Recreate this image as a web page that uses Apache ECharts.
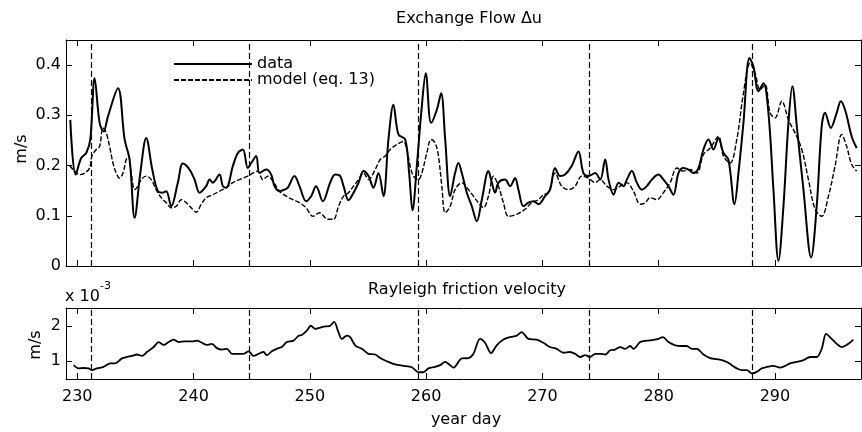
<!DOCTYPE html>
<html><head><meta charset="utf-8">
<script src="https://cdn.jsdelivr.net/npm/echarts@6/dist/echarts.min.js"></script>
<style>html,body{margin:0;padding:0;background:#fff}#c{width:862px;height:432px}</style>
</head><body><div id="c"></div>
<script>
const dataDays=[229.40,229.86,230.34,230.77,231.12,231.49,231.92,232.26,232.64,233.50,
234.07,234.50,234.93,235.42,235.93,236.45,236.93,237.36,237.65,238.08,
238.65,239.08,239.66,240.09,240.52,241.09,241.38,241.66,242.23,242.52,
242.81,243.38,243.81,244.24,244.67,244.96,245.39,245.67,246.25,246.68,
246.96,247.39,247.82,248.11,248.68,249.11,249.68,250.11,250.54,251.12,
251.75,252.18,252.61,252.90,253.33,253.76,254.19,254.62,255.05,255.47,
255.90,256.33,256.76,257.19,257.62,258.20,258.54,258.83,259.20,259.63,
259.97,260.43,260.92,261.29,261.64,262.07,262.49,262.78,263.07,263.50,
263.93,264.36,264.79,265.36,265.65,265.93,266.22,266.79,267.22,267.65,
267.94,268.37,268.80,269.23,269.66,270.23,270.66,271.09,271.52,271.95,
272.52,273.10,273.53,273.96,274.54,274.97,275.40,275.69,276.12,276.55,
276.98,277.26,277.69,278.12,278.55,278.98,279.41,279.98,280.41,280.84,
281.27,281.70,282.13,282.56,282.99,283.42,283.85,284.28,284.71,285.14,
285.57,286.00,286.52,286.86,287.29,287.81,288.15,288.58,289.01,289.44,
289.87,290.30,290.73,291.16,291.50,291.88,292.45,293.11,293.59,294.02,
294.31,294.80,295.31,295.66,296.03,296.60,297.03];
const dataVals=[0.291,0.182,0.215,0.225,0.252,0.374,0.285,0.268,0.298,0.354,
0.252,0.212,0.096,0.185,0.255,0.192,0.149,0.146,0.149,0.119,
0.166,0.204,0.192,0.172,0.146,0.159,0.172,0.166,0.182,0.159,
0.156,0.199,0.225,0.232,0.195,0.205,0.219,0.185,0.192,0.182,
0.159,0.149,0.152,0.156,0.179,0.159,0.129,0.139,0.159,0.129,
0.166,0.182,0.179,0.159,0.131,0.146,0.166,0.189,0.179,0.156,
0.185,0.139,0.252,0.321,0.262,0.252,0.185,0.111,0.199,0.318,
0.384,0.285,0.311,0.344,0.252,0.139,0.185,0.205,0.185,0.146,
0.119,0.089,0.132,0.189,0.166,0.146,0.166,0.172,0.159,0.175,
0.152,0.119,0.126,0.129,0.123,0.139,0.152,0.195,0.179,0.182,
0.199,0.228,0.185,0.179,0.185,0.172,0.212,0.172,0.142,0.166,
0.159,0.172,0.189,0.166,0.152,0.159,0.172,0.182,0.172,0.159,
0.142,0.185,0.195,0.192,0.185,0.195,0.232,0.252,0.232,0.255,
0.225,0.212,0.123,0.185,0.285,0.414,0.397,0.348,0.364,0.305,
0.152,0.010,0.119,0.285,0.358,0.278,0.152,0.017,0.119,0.278,
0.305,0.275,0.305,0.328,0.311,0.258,0.235];
const modelDays=[229.34,229.77,230.20,230.63,231.06,231.26,231.63,231.92,232.21,232.49,
232.78,233.07,233.35,233.64,233.93,234.21,234.41,234.64,234.93,235.21,
235.50,235.93,236.36,236.79,237.22,237.65,238.08,238.51,238.94,239.37,
239.80,240.23,240.66,241.09,241.66,242.23,242.81,243.38,243.95,244.67,
245.10,245.53,245.96,246.39,246.82,247.39,247.97,248.54,249.11,249.68,
250.26,250.83,251.55,252.04,252.47,252.90,253.33,253.76,254.19,254.62,
255.05,255.62,256.05,256.48,256.91,257.48,258.05,258.34,258.63,258.91,
259.34,259.63,260.06,260.43,260.78,261.06,261.35,261.64,262.07,262.49,
263.07,263.64,264.07,264.50,264.93,265.36,265.79,266.22,266.65,267.08,
267.80,268.51,269.08,269.66,270.09,270.52,271.09,271.66,272.24,272.81,
273.38,273.96,274.54,274.97,275.54,276.12,276.69,277.26,277.83,278.41,
278.84,279.27,279.84,280.41,280.99,281.56,282.13,282.71,283.28,283.85,
284.43,285.14,285.57,286.14,286.72,287.29,287.86,288.29,288.72,289.15,
289.58,290.01,290.59,291.16,291.73,292.31,292.88,293.45,294.02,294.60,
295.17,295.74,296.17,296.60,297.03];
const modelVals=[0.200,0.189,0.182,0.185,0.195,0.219,0.232,0.238,0.275,0.265,
0.238,0.205,0.185,0.175,0.185,0.212,0.219,0.185,0.152,0.159,
0.172,0.179,0.172,0.152,0.136,0.126,0.116,0.119,0.132,0.126,
0.116,0.107,0.123,0.136,0.142,0.149,0.156,0.166,0.172,0.179,
0.185,0.189,0.172,0.179,0.169,0.149,0.139,0.132,0.126,0.116,
0.099,0.106,0.093,0.093,0.119,0.139,0.146,0.159,0.172,0.185,
0.172,0.192,0.212,0.219,0.232,0.242,0.248,0.232,0.199,0.179,
0.172,0.185,0.225,0.252,0.245,0.219,0.159,0.106,0.119,0.152,
0.166,0.152,0.139,0.126,0.116,0.139,0.179,0.159,0.126,0.099,
0.103,0.113,0.126,0.132,0.142,0.146,0.185,0.159,0.152,0.159,
0.179,0.175,0.166,0.172,0.159,0.152,0.159,0.166,0.149,0.123,
0.126,0.136,0.132,0.146,0.166,0.195,0.189,0.192,0.185,0.222,
0.235,0.258,0.219,0.205,0.252,0.344,0.404,0.384,0.351,0.361,
0.305,0.295,0.328,0.291,0.265,0.232,0.172,0.113,0.099,0.139,
0.199,0.262,0.238,0.202,0.189];
const friDays=[229.69,230.11,230.54,230.97,231.26,231.69,232.26,232.84,233.27,233.84,
234.27,234.70,235.13,235.56,235.99,236.57,237.00,237.43,237.85,238.28,
238.71,239.28,239.86,240.29,240.72,241.15,241.58,242.01,242.44,242.87,
243.30,243.87,244.30,244.73,245.16,245.59,246.02,246.30,246.73,247.16,
247.59,248.02,248.60,249.03,249.31,249.74,250.09,250.46,250.89,251.32,
251.75,252.09,252.46,252.75,253.18,253.47,253.90,254.47,255.04,255.62,
256.05,256.62,257.34,258.05,258.77,259.34,259.77,260.20,260.77,261.20,
261.63,262.06,262.35,263.07,263.64,264.07,264.64,265.07,265.59,266.07,
266.65,267.22,267.79,268.22,268.80,269.51,270.09,270.66,271.23,271.81,
272.38,272.81,273.25,273.68,274.11,274.54,274.97,275.40,275.83,276.26,
276.69,277.12,277.55,277.83,278.41,278.98,279.55,279.98,280.36,280.84,
281.42,281.99,282.42,282.85,283.28,283.85,284.42,285.00,285.43,285.86,
286.29,286.72,287.15,287.58,288.01,288.44,288.86,289.29,289.87,290.44,
290.87,291.30,291.87,292.45,293.02,293.59,294.02,294.40,294.88,295.31,
295.74,296.31,296.74];
const friVals=[0.89,0.80,0.81,0.80,0.75,0.80,0.84,0.94,0.94,1.08,
1.12,1.15,1.19,1.15,1.26,1.40,1.54,1.46,1.54,1.61,
1.54,1.56,1.56,1.58,1.52,1.46,1.49,1.37,1.33,1.35,
1.21,1.21,1.21,1.28,1.15,1.21,1.26,1.17,1.28,1.35,
1.40,1.54,1.58,1.72,1.74,1.86,2.00,1.91,1.95,1.98,
2.00,2.11,1.82,1.63,1.72,1.68,1.45,1.35,1.21,1.19,
1.09,1.00,0.91,0.87,0.83,0.69,0.69,0.80,0.84,0.89,
0.98,0.89,0.82,1.08,1.09,1.21,1.63,1.52,1.23,1.45,
1.61,1.68,1.72,1.82,1.63,1.61,1.52,1.40,1.35,1.24,
1.26,1.21,1.12,1.17,1.12,1.21,1.21,1.19,1.31,1.33,
1.40,1.35,1.43,1.35,1.54,1.58,1.60,1.63,1.68,1.54,
1.45,1.43,1.43,1.35,1.35,1.19,1.09,1.06,1.03,0.98,
0.89,0.80,0.75,0.75,0.66,0.70,0.80,0.84,0.87,0.82,
0.87,0.94,0.98,1.03,1.12,1.12,1.35,1.77,1.63,1.49,
1.40,1.49,1.61];
const eventDays=[231.2,244.75,259.35,274.0,288.05];
const xTicks=[230,240,250,260,270,280,290];
const yTicksTop=[0,0.1,0.2,0.3,0.4];
const yTicksBot=[1,2];
const seriesNames=['data','model (eq. 13)'];

const FONT='DejaVu Sans';
const zip=(a,b)=>a.map((d,i)=>[d,b[i]]);
const axisLine={show:true,onZero:false,lineStyle:{color:'#000',width:1}};
function xAx(g,pos,showLabel){
  return {type:'value',gridIndex:g,position:pos,min:229.03,max:297.4,
    axisLine,splitLine:{show:false},
    axisTick:{show:true,inside:true,length:6,customValues:xTicks,lineStyle:{color:'#000'}},
    axisLabel:{show:showLabel,customValues:xTicks,color:'#000',fontFamily:FONT,fontSize:16,margin:10}};
}
function yAx(g,pos,showLabel,mn,mx,ticks){
  return {type:'value',gridIndex:g,position:pos,min:mn,max:mx,
    axisLine,splitLine:{show:false},
    axisTick:{show:true,inside:true,length:6,customValues:ticks,lineStyle:{color:'#000'}},
    axisLabel:{show:showLabel,customValues:ticks,color:'#000',fontFamily:FONT,fontSize:16,margin:5}};
}
const vlines=()=>({silent:true,symbol:['none','none'],animation:false,
  label:{show:false},lineStyle:{type:[6,3],color:'#000',width:1.2},
  data:eventDays.map(d=>({xAxis:d}))});

const chart=echarts.init(document.getElementById('c'),null,{renderer:'canvas'});
chart.setOption({
  animation:false,
  backgroundColor:'#fff',
  grid:[{left:66,right:1,top:40,height:226},{left:66,right:1,top:308,height:71}],
  xAxis:[xAx(0,'bottom',false),xAx(0,'top',false),xAx(1,'bottom',true),xAx(1,'top',false)],
  yAxis:[yAx(0,'left',true,0,0.45,yTicksTop),yAx(0,'right',false,0,0.45,yTicksTop),
         yAx(1,'left',true,0.5,2.5,yTicksBot),yAx(1,'right',false,0.5,2.5,yTicksBot)],
  legend:{data:seriesNames,orient:'vertical',left:173,top:56,padding:0,itemGap:0,
    itemWidth:78,itemHeight:15,
    itemStyle:{color:'transparent',borderColor:'transparent',borderWidth:0,opacity:0},
    textStyle:{fontFamily:FONT,fontSize:16,color:'#000',lineHeight:15}},
  graphic:[
    {type:'text',x:469,y:19,style:{text:'Exchange Flow Δu',font:'16px "DejaVu Sans"',fill:'#000',textAlign:'center',textVerticalAlign:'middle'}},
    {type:'text',x:467,y:290,style:{text:'Rayleigh friction velocity',font:'16px "DejaVu Sans"',fill:'#000',textAlign:'center',textVerticalAlign:'middle'}},
    {type:'text',x:466,y:420,style:{text:'year day',font:'16px "DejaVu Sans"',fill:'#000',textAlign:'center',textVerticalAlign:'middle'}},
    {type:'text',x:22,y:149,rotation:Math.PI/2,style:{text:'m/s',font:'16px "DejaVu Sans"',fill:'#000',textAlign:'center',textVerticalAlign:'middle'}},
    {type:'text',x:36,y:345,rotation:Math.PI/2,style:{text:'m/s',font:'16px "DejaVu Sans"',fill:'#000',textAlign:'center',textVerticalAlign:'middle'}},
    {type:'text',x:65,y:297,style:{text:'x 10',font:'16px "DejaVu Sans"',fill:'#000',textAlign:'left',textVerticalAlign:'middle'}},
    {type:'text',x:100,y:286,style:{text:'-3',font:'11px "DejaVu Sans"',fill:'#000',textAlign:'left',textVerticalAlign:'middle'}}
  ],
  series:[
    {type:'line',name:seriesNames[0],xAxisIndex:0,yAxisIndex:0,data:zip(dataDays,dataVals),
     symbol:'none',showSymbol:false,smooth:0.35,
     lineStyle:{color:'#000',width:2},itemStyle:{color:'#000'},markLine:vlines()},
    {type:'line',name:seriesNames[1],xAxisIndex:0,yAxisIndex:0,data:zip(modelDays,modelVals),
     symbol:'none',showSymbol:false,smooth:0.35,
     lineStyle:{color:'#000',width:1.4,type:[5,2]},itemStyle:{color:'#000'}},
    {type:'line',name:'friction',xAxisIndex:2,yAxisIndex:2,data:zip(friDays,friVals),
     symbol:'none',showSymbol:false,smooth:0.3,
     lineStyle:{color:'#000',width:1.8},itemStyle:{color:'#000'},markLine:vlines()}
  ]
});
</script></body></html>
